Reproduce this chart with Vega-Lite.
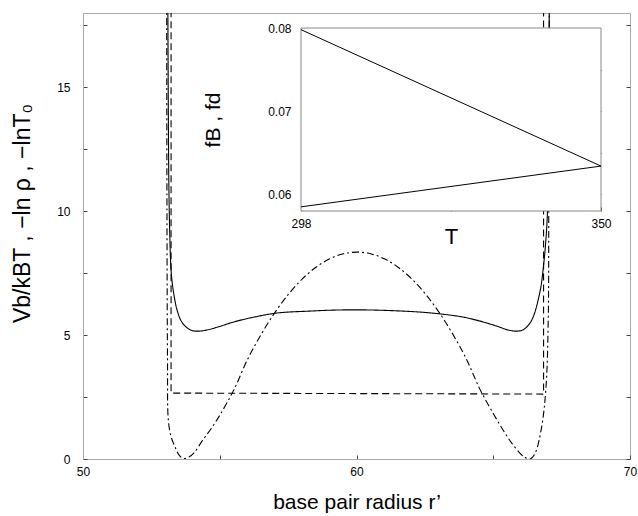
{
  "$schema": "https://vega.github.io/schema/vega-lite/v6.json",
  "width": 547,
  "height": 446,
  "autosize": {"type": "none"},
  "padding": {"left": 83, "top": 13, "right": 8, "bottom": 57},
  "config": {
    "font": "Liberation Sans",
    "view": {"stroke": "#aaa", "strokeWidth": 1},
    "axis": {
      "grid": false,
      "labelFont": "Liberation Sans",
      "labelFontSize": 12,
      "labelColor": "#000",
      "titleFont": "Liberation Sans",
      "titleFontWeight": "normal",
      "titleColor": "#000",
      "domainColor": "#aaa",
      "tickColor": "#444",
      "tickSize": -4,
      "labelFlush": false,
      "labelOverlap": false
    }
  },
  "datasets": {
    "main": [
      {"curve": "Vb", "i": 1, "r": 53.10, "v": 19},
      {"curve": "Vb", "i": 2, "r": 53.12, "v": 14},
      {"curve": "Vb", "i": 3, "r": 53.14, "v": 11},
      {"curve": "Vb", "i": 4, "r": 53.17, "v": 9.2},
      {"curve": "Vb", "i": 5, "r": 53.22, "v": 7.62},
      {"curve": "Vb", "i": 6, "r": 53.30, "v": 6.8},
      {"curve": "Vb", "i": 7, "r": 53.44, "v": 6.01},
      {"curve": "Vb", "i": 8, "r": 53.60, "v": 5.55},
      {"curve": "Vb", "i": 9, "r": 53.80, "v": 5.30},
      {"curve": "Vb", "i": 10, "r": 54.00, "v": 5.18},
      {"curve": "Vb", "i": 11, "r": 54.20, "v": 5.16},
      {"curve": "Vb", "i": 12, "r": 54.50, "v": 5.20},
      {"curve": "Vb", "i": 13, "r": 55.00, "v": 5.35},
      {"curve": "Vb", "i": 14, "r": 55.48, "v": 5.52},
      {"curve": "Vb", "i": 15, "r": 56.10, "v": 5.69},
      {"curve": "Vb", "i": 16, "r": 57.09, "v": 5.89},
      {"curve": "Vb", "i": 17, "r": 58.30, "v": 5.97},
      {"curve": "Vb", "i": 18, "r": 59.20, "v": 6.01},
      {"curve": "Vb", "i": 19, "r": 60.00, "v": 6.02},
      {"curve": "Vb", "i": 20, "r": 61.00, "v": 6.00},
      {"curve": "Vb", "i": 21, "r": 62.32, "v": 5.93},
      {"curve": "Vb", "i": 22, "r": 63.10, "v": 5.85},
      {"curve": "Vb", "i": 23, "r": 63.89, "v": 5.73},
      {"curve": "Vb", "i": 24, "r": 64.50, "v": 5.57},
      {"curve": "Vb", "i": 25, "r": 65.14, "v": 5.36},
      {"curve": "Vb", "i": 26, "r": 65.50, "v": 5.22},
      {"curve": "Vb", "i": 27, "r": 65.87, "v": 5.16},
      {"curve": "Vb", "i": 28, "r": 66.10, "v": 5.22},
      {"curve": "Vb", "i": 29, "r": 66.34, "v": 5.48},
      {"curve": "Vb", "i": 30, "r": 66.50, "v": 5.85},
      {"curve": "Vb", "i": 31, "r": 66.64, "v": 6.41},
      {"curve": "Vb", "i": 32, "r": 66.75, "v": 7.0},
      {"curve": "Vb", "i": 33, "r": 66.82, "v": 7.62},
      {"curve": "Vb", "i": 34, "r": 66.90, "v": 8.5},
      {"curve": "Vb", "i": 35, "r": 66.97, "v": 9.64},
      {"curve": "Vb", "i": 36, "r": 67.00, "v": 11},
      {"curve": "Vb", "i": 37, "r": 67.03, "v": 14},
      {"curve": "Vb", "i": 38, "r": 67.05, "v": 19},
      {"curve": "T0", "i": 1, "r": 53.06, "v": 19},
      {"curve": "T0", "i": 2, "r": 53.07, "v": 10},
      {"curve": "T0", "i": 3, "r": 53.09, "v": 4},
      {"curve": "T0", "i": 4, "r": 53.12, "v": 1.57},
      {"curve": "T0", "i": 5, "r": 53.22, "v": 0.9},
      {"curve": "T0", "i": 6, "r": 53.36, "v": 0.5},
      {"curve": "T0", "i": 7, "r": 53.50, "v": 0.18},
      {"curve": "T0", "i": 8, "r": 53.67, "v": 0.02},
      {"curve": "T0", "i": 9, "r": 53.87, "v": 0.08},
      {"curve": "T0", "i": 10, "r": 54.06, "v": 0.25},
      {"curve": "T0", "i": 11, "r": 54.37, "v": 0.75},
      {"curve": "T0", "i": 12, "r": 54.67, "v": 1.2},
      {"curve": "T0", "i": 13, "r": 55.02, "v": 1.8},
      {"curve": "T0", "i": 14, "r": 55.52, "v": 2.8},
      {"curve": "T0", "i": 15, "r": 56.02, "v": 4.03},
      {"curve": "T0", "i": 16, "r": 56.52, "v": 5.04},
      {"curve": "T0", "i": 17, "r": 57.02, "v": 5.92},
      {"curve": "T0", "i": 18, "r": 57.52, "v": 6.66},
      {"curve": "T0", "i": 19, "r": 58.02, "v": 7.27},
      {"curve": "T0", "i": 20, "r": 58.52, "v": 7.74},
      {"curve": "T0", "i": 21, "r": 59.02, "v": 8.08},
      {"curve": "T0", "i": 22, "r": 59.52, "v": 8.28},
      {"curve": "T0", "i": 23, "r": 60.02, "v": 8.35},
      {"curve": "T0", "i": 24, "r": 60.52, "v": 8.28},
      {"curve": "T0", "i": 25, "r": 61.02, "v": 8.08},
      {"curve": "T0", "i": 26, "r": 61.52, "v": 7.74},
      {"curve": "T0", "i": 27, "r": 62.02, "v": 7.27},
      {"curve": "T0", "i": 28, "r": 62.52, "v": 6.66},
      {"curve": "T0", "i": 29, "r": 63.02, "v": 5.92},
      {"curve": "T0", "i": 30, "r": 63.52, "v": 5.04},
      {"curve": "T0", "i": 31, "r": 64.02, "v": 4.03},
      {"curve": "T0", "i": 32, "r": 64.52, "v": 2.8},
      {"curve": "T0", "i": 33, "r": 65.02, "v": 1.8},
      {"curve": "T0", "i": 34, "r": 65.37, "v": 1.15},
      {"curve": "T0", "i": 35, "r": 65.67, "v": 0.65},
      {"curve": "T0", "i": 36, "r": 65.98, "v": 0.23},
      {"curve": "T0", "i": 37, "r": 66.17, "v": 0.06},
      {"curve": "T0", "i": 38, "r": 66.35, "v": 0.0},
      {"curve": "T0", "i": 39, "r": 66.53, "v": 0.23},
      {"curve": "T0", "i": 40, "r": 66.77, "v": 1.30},
      {"curve": "T0", "i": 41, "r": 66.93, "v": 2.92},
      {"curve": "T0", "i": 42, "r": 67.01, "v": 5.6},
      {"curve": "T0", "i": 43, "r": 67.03, "v": 10},
      {"curve": "T0", "i": 44, "r": 67.05, "v": 19}
    ],
    "rho": [
      {"i": 1, "r": 53.22, "v": 19},
      {"i": 2, "r": 53.22, "v": 2.66},
      {"i": 3, "r": 60.00, "v": 2.64},
      {"i": 4, "r": 66.84, "v": 2.62},
      {"i": 5, "r": 66.84, "v": 19}
    ],
    "inset": [
      {"series": "fB", "T": 298, "f": 0.0798},
      {"series": "fB", "T": 350, "f": 0.0634},
      {"series": "fd", "T": 298, "f": 0.0585},
      {"series": "fd", "T": 350, "f": 0.0634}
    ]
  },
  "layer": [
    {
      "layer": [
        {
          "data": {"name": "rho"},
          "mark": {"type": "line", "clip": true, "color": "black", "strokeWidth": 1.1, "strokeDash": [7, 4]},
          "encoding": {
            "x": {
              "field": "r", "type": "quantitative",
              "scale": {"domain": [50, 70], "nice": false, "zero": false},
              "axis": {
                "orient": "bottom",
                "values": [50, 55, 60, 65, 70],
                "labelExpr": "datum.value % 10 == 0 ? datum.label : ''",
                "labelPadding": 11,
                "title": "base pair radius r’",
                "titleFontSize": 21,
                "titlePadding": 14
              }
            },
            "y": {
              "field": "v", "type": "quantitative",
              "scale": {"domain": [0, 18], "nice": false, "zero": false},
              "axis": {
                "orient": "left",
                "values": [0, 2.5, 5, 7.5, 10, 12.5, 15, 17.5],
                "labelExpr": "datum.value % 5 == 0 ? datum.label : ''",
                "labelPadding": 17,
                "title": "Vb/kBT , −ln ρ , −lnT₀",
                "titleFontSize": 23,
                "titlePadding": 22,
                "titleY": 200
              }
            },
            "order": {"field": "i", "type": "quantitative"}
          }
        },
        {
          "data": {"name": "main"},
          "mark": {"type": "line", "clip": true, "color": "black", "strokeWidth": 1.1, "interpolate": "catmull-rom"},
          "encoding": {
            "x": {"field": "r", "type": "quantitative"},
            "y": {"field": "v", "type": "quantitative", "axis": null},
            "strokeDash": {
              "field": "curve", "type": "nominal",
              "scale": {"domain": ["Vb", "T0"], "range": [[1, 0], [7, 3, 2, 3]]},
              "legend": null
            },
            "order": {"field": "i", "type": "quantitative"}
          }
        },
        {
          "data": {"values": [{}]},
          "mark": {"type": "rule", "opacity": 0},
          "encoding": {
            "y": {
              "datum": 0, "type": "quantitative",
              "axis": {
                "orient": "right",
                "values": [0, 2.5, 5, 7.5, 10, 12.5, 15, 17.5],
                "labels": false,
                "domain": false,
                "title": null
              }
            }
          }
        }
      ],
      "resolve": {"axis": {"y": "independent"}}
    },
    {
      "layer": [
        {
          "data": {"values": [{}]},
          "mark": {"type": "rect", "fill": "white", "stroke": "#888", "strokeWidth": 1},
          "encoding": {
            "x": {
              "datum": 298, "type": "quantitative",
              "scale": {"domain": [298, 350], "range": [218, 518], "nice": false, "zero": false},
              "axis": {
                "orient": "bottom",
                "offset": -248,
                "domain": false,
                "values": [298, 324, 350],
                "labelExpr": "datum.value == 324 ? '' : datum.label",
                "labelPadding": 11,
                "title": "T",
                "titleFontSize": 22,
                "titlePadding": -3
              }
            },
            "x2": {"datum": 350},
            "y": {
              "datum": 0.058, "type": "quantitative",
              "scale": {"domain": [0.058, 0.08], "range": [198, 15], "nice": false, "zero": false},
              "axis": {
                "orient": "left",
                "offset": -218,
                "domain": false,
                "values": [0.06, 0.065, 0.07, 0.075, 0.08],
                "format": ".2f",
                "labelExpr": "abs(datum.value * 100 - round(datum.value * 100)) < 0.01 ? datum.label : ''",
                "labelPadding": 14,
                "title": "fB , fd",
                "titleFontSize": 21,
                "titlePadding": 44
              }
            },
            "y2": {"datum": 0.08}
          }
        },
        {
          "data": {"name": "inset"},
          "mark": {"type": "line", "color": "black", "strokeWidth": 1},
          "encoding": {
            "x": {
              "field": "T", "type": "quantitative",
              "axis": {"orient": "top", "offset": -15, "domain": false, "labels": false, "values": [324], "title": null}
            },
            "y": {
              "field": "f", "type": "quantitative",
              "axis": {"orient": "right", "offset": -29, "domain": false, "labels": false, "values": [0.06, 0.065, 0.07, 0.075], "title": null}
            },
            "detail": {"field": "series"}
          }
        }
      ],
      "resolve": {"axis": {"x": "independent", "y": "independent"}}
    }
  ],
  "resolve": {
    "scale": {"x": "independent", "y": "independent"},
    "axis": {"x": "independent", "y": "independent"}
  }
}
